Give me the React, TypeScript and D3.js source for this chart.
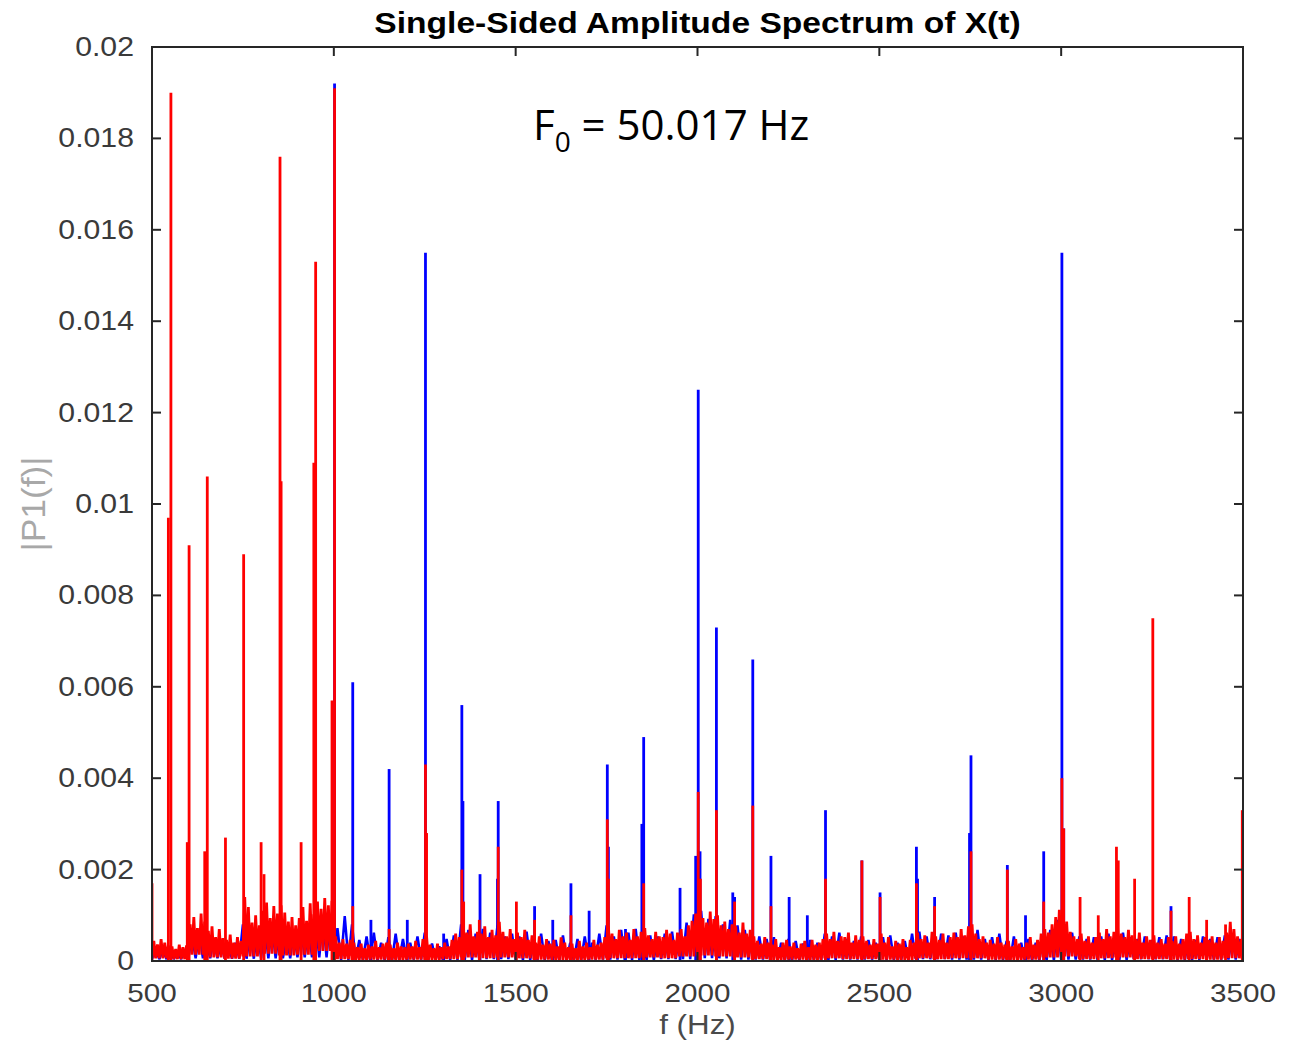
import React, { useEffect, useRef } from 'react';
import * as d3 from 'd3';

const xTicks = [500, 1000, 1500, 2000, 2500, 3000, 3500];
const yTicks = [0, 0.002, 0.004, 0.006, 0.008, 0.01, 0.012, 0.014, 0.016, 0.018, 0.02];

// noise floor of the red trace: top of each 10 Hz bin from 500 Hz (units of 1e-5)
const redNoiseHi = [
  44, 36, 48, 40, 34, 32, 26, 36, 30, 34, 80, 96, 72, 104, 86, 66, 76, 52, 70, 50,
  46, 58, 40, 52, 44, 140, 118, 84, 100, 78, 110, 128, 94, 120, 104, 122, 106, 86, 96, 78,
  94, 118, 88, 126, 102, 130, 114, 138, 122, 132, 54, 40, 48, 38, 46, 40, 30, 38, 28, 36,
  32, 44, 30, 38, 40, 36, 28, 40, 32, 30, 38, 32, 44, 30, 48, 54, 36, 28, 38, 30,
  40, 32, 46, 60, 52, 70, 62, 80, 54, 64, 60, 76, 52, 68, 56, 86, 64, 54, 70, 48,
  62, 52, 68, 46, 56, 40, 54, 36, 48, 38, 46, 32, 52, 40, 30, 38, 28, 44, 32, 40,
  30, 46, 36, 40, 52, 76, 60, 48, 68, 54, 62, 46, 70, 54, 64, 72, 56, 48, 64, 54,
  52, 68, 60, 46, 62, 70, 54, 78, 88, 104, 116, 94, 84, 108, 92, 100, 78, 86, 70, 80,
  76, 62, 84, 60, 68, 54, 44, 38, 52, 40, 36, 48, 30, 40, 46, 32, 40, 28, 38, 44,
  30, 46, 36, 40, 48, 60, 48, 64, 44, 54, 52, 62, 40, 56, 46, 54, 44, 36, 48, 38,
  60, 40, 52, 32, 44, 38, 48, 30, 46, 40, 62, 48, 56, 40, 64, 54, 46, 60, 40, 52,
  62, 52, 70, 56, 76, 80, 60, 48, 54, 40, 46, 38, 52, 40, 36, 44, 32, 48, 38, 30,
  40, 52, 36, 46, 60, 70, 62, 80, 96, 112, 120, 86, 64, 54, 48, 60, 44, 54, 40, 52,
  62, 48, 70, 54, 64, 76, 60, 52, 68, 56, 48, 62, 40, 54, 46, 56, 40, 48, 38, 52,
  44, 54, 38, 48, 60, 64, 48, 56, 40, 52, 46, 54, 40, 52, 44, 62, 86, 70, 54, 48,
];
// bottom of the red noise, per 50 Hz
const redNoiseLo = [
  6, 4, 14, 8, 5, 10, 16, 12, 14, 22, 4, 2, 3, 2, 3, 2, 4, 8, 6, 8,
  6, 3, 2, 2, 3, 6, 6, 8, 6, 10, 12, 10, 8, 4, 2, 3, 2, 6, 4, 4,
  3, 2, 6, 4, 6, 6, 3, 2, 3, 8, 10, 4, 6, 8, 4, 4, 3, 4, 3, 6,
];

// noise floor of the blue trace: top of each 20 Hz bin from 500 Hz (units of 1e-5)
const blueNoiseHi = [
  26, 24, 30, 22, 26, 54, 62, 40, 46, 36, 32, 40, 80, 60, 68, 80, 76, 70, 54, 62,
  68, 76, 84, 94, 96, 72, 98, 80, 46, 54, 62, 40, 52, 60, 48, 40, 54, 62, 38, 32,
  48, 56, 80, 68, 60, 70, 62, 78, 54, 60, 54, 64, 48, 60, 44, 46, 56, 40, 48, 54,
  40, 60, 78, 54, 68, 62, 70, 76, 56, 54, 60, 64, 54, 84, 102, 110, 92, 98, 80, 90,
  78, 68, 60, 54, 48, 52, 40, 48, 44, 38, 46, 40, 60, 54, 62, 48, 44, 54, 46, 40,
  52, 56, 40, 44, 60, 64, 54, 48, 60, 56, 62, 54, 86, 68, 48, 52, 60, 44, 54, 40,
  48, 40, 54, 68, 90, 78, 62, 54, 48, 52, 54, 60, 56, 62, 52, 48, 54, 46, 52, 56,
  54, 48, 52, 46, 54, 48, 52, 56, 54, 48,
];
// bottom of the blue noise, per 100 Hz
const blueNoiseLo = [
  4, 6, 5, 6, 8, 2, 1, 3, 2, 4, 2, 1, 3, 2, 4, 6, 3, 1, 2, 3,
  2, 4, 3, 2, 1, 3, 2, 4, 2, 3,
];

const redPeakHz = [
  500, 545, 552, 597, 602, 645, 652, 702, 752, 800, 808, 852, 855, 910, 945, 950, 995, 1002,
  1052, 1152, 1252, 1255, 1352, 1357, 1400, 1452, 1502, 1552, 1652, 1752, 1755, 1852, 2002,
  2008, 2052, 2102, 2152, 2202, 2352, 2452, 2502, 2602, 2652, 2752, 2852, 2952, 3002, 3007,
  3052, 3102, 3152, 3157, 3202, 3252, 3302, 3352, 3400, 3452, 3498,
];
const redPeakAmp = [
  0.0017, 0.0097, 0.019, 0.0026, 0.0091, 0.0024, 0.0106, 0.0027, 0.0089, 0.0026, 0.0019, 0.0176,
  0.0105, 0.0026, 0.0109, 0.0153, 0.0057, 0.0191, 0.0012, 0.0007, 0.0043, 0.0028, 0.002, 0.0013,
  0.0009, 0.0025, 0.0013, 0.0009, 0.001, 0.0031, 0.0018, 0.0017, 0.0037, 0.0018, 0.0033, 0.0013,
  0.0034, 0.0012, 0.0018, 0.0022, 0.0014, 0.0017, 0.0012, 0.0024, 0.002, 0.0013, 0.004, 0.0029,
  0.0014, 0.001, 0.0025, 0.0022, 0.0018, 0.0075, 0.0011, 0.0014, 0.0009, 0.0008, 0.0033,
];

const bluePeakHz = [
  1002, 1052, 1102, 1152, 1202, 1252, 1302, 1352, 1355, 1402, 1450, 1452, 1552, 1602, 1652,
  1702, 1752, 1755, 1802, 1847, 1852, 1952, 1995, 2002, 2007, 2052, 2097, 2102, 2152, 2202,
  2252, 2302, 2352, 2452, 2502, 2602, 2605, 2652, 2748, 2752, 2852, 2902, 2952, 3002, 3007,
  3302,
];
const bluePeakAmp = [
  0.0192, 0.0061, 0.0009, 0.0042, 0.0009, 0.0155, 0.0006, 0.0056, 0.0035, 0.0019, 0.0018,
  0.0035, 0.0012, 0.0009, 0.0017, 0.0011, 0.0043, 0.0025, 0.0007, 0.003, 0.0049, 0.0016,
  0.0023, 0.0125, 0.0024, 0.0073, 0.0015, 0.0014, 0.0066, 0.0023, 0.0014, 0.001, 0.0033,
  0.0022, 0.0015, 0.0025, 0.0018, 0.0014, 0.0028, 0.0045, 0.0021, 0.001, 0.0024, 0.0155,
  0.0029, 0.0012,
];

const WIDTH = 1293;
const HEIGHT = 1043;
const margin = { top: 47, right: 50, bottom: 82, left: 152 };

const App = () => {
  const svgRef = useRef(null);

  useEffect(() => {
    const svg = d3.select(svgRef.current);
    svg.selectAll('*').remove();

    const x = d3
      .scaleLinear()
      .domain([500, 3500])
      .range([margin.left, WIDTH - margin.right]);
    const y = d3
      .scaleLinear()
      .domain([0, 0.02])
      .range([HEIGHT - margin.bottom, margin.top]);

    const left = margin.left;
    const right = WIDTH - margin.right;
    const top = margin.top;
    const bottom = HEIGHT - margin.bottom;

    svg
      .append('clipPath')
      .attr('id', 'plot-clip')
      .append('rect')
      .attr('x', left)
      .attr('y', top)
      .attr('width', right - left)
      .attr('height', bottom - top);

    const plot = svg.append('g').attr('clip-path', 'url(#plot-clip)');

    const line = d3
      .line()
      .x((d) => x(d[0]))
      .y((d) => y(d[1]));

    // zig-zag through each bin's bottom and top, like a dense trace
    const noisePoints = (hi, lo, binHz, loBins) => {
      const pts = [];
      hi.forEach((h, i) => {
        const f0 = 500 + i * binHz;
        pts.push([f0, lo[Math.floor(i / loBins)] * 1e-5]);
        pts.push([f0 + binHz / 2, h * 1e-5]);
      });
      pts.push([3500, lo[lo.length - 1] * 1e-5]);
      return pts;
    };

    const drawSeries = (hi, lo, binHz, loBins, peakHz, peakAmp, color, noiseWidth) => {
      plot
        .append('path')
        .attr('d', line(noisePoints(hi, lo, binHz, loBins)))
        .attr('fill', 'none')
        .attr('stroke', color)
        .attr('stroke-width', noiseWidth)
        .attr('stroke-linejoin', 'bevel');

      plot
        .selectAll(null)
        .data(peakHz.map((f, i) => [f, peakAmp[i]]))
        .enter()
        .append('line')
        .attr('x1', (d) => x(d[0]))
        .attr('x2', (d) => x(d[0]))
        .attr('y1', y(0))
        .attr('y2', (d) => y(d[1]))
        .attr('stroke', color)
        .attr('stroke-width', 2.8);
    };

    drawSeries(blueNoiseHi, blueNoiseLo, 20, 5, bluePeakHz, bluePeakAmp, '#0000ff', 2.5);
    drawSeries(redNoiseHi, redNoiseLo, 10, 5, redPeakHz, redPeakAmp, '#ff0000', 2.8);

    // axes box
    const axisColor = '#262626';
    svg
      .append('rect')
      .attr('x', left)
      .attr('y', top)
      .attr('width', right - left)
      .attr('height', bottom - top)
      .attr('fill', 'none')
      .attr('stroke', axisColor)
      .attr('stroke-width', 2);

    const tickLen = 9;
    const ticks = svg.append('g').attr('stroke', axisColor).attr('stroke-width', 2);
    xTicks.forEach((t) => {
      ticks.append('line').attr('x1', x(t)).attr('x2', x(t)).attr('y1', bottom).attr('y2', bottom - tickLen);
      ticks.append('line').attr('x1', x(t)).attr('x2', x(t)).attr('y1', top).attr('y2', top + tickLen);
    });
    yTicks.forEach((t) => {
      ticks.append('line').attr('x1', left).attr('x2', left + tickLen).attr('y1', y(t)).attr('y2', y(t));
      ticks.append('line').attr('x1', right).attr('x2', right - tickLen).attr('y1', y(t)).attr('y2', y(t));
    });

    const font = '"Liberation Sans", Arial, Helvetica, sans-serif';
    const stretch = 'scale(1.12,1)';
    const fmt = d3.format('~g');

    svg
      .selectAll('.ylab')
      .data(yTicks)
      .enter()
      .append('text')
      .attr('class', 'ylab')
      .attr('transform', (d) => `translate(${left - 18},${y(d) + 9}) ${stretch}`)
      .attr('text-anchor', 'end')
      .style('font-family', font)
      .style('font-size', '27px')
      .style('fill', '#3a3a3a')
      .text((d) => fmt(d));

    svg
      .selectAll('.xlab')
      .data(xTicks)
      .enter()
      .append('text')
      .attr('class', 'xlab')
      .attr('transform', (d) => `translate(${x(d)},${bottom + 41}) ${stretch}`)
      .attr('text-anchor', 'middle')
      .style('font-family', font)
      .style('font-size', '26.5px')
      .style('fill', '#3a3a3a')
      .text((d) => d);

    // title
    svg
      .append('text')
      .attr('transform', `translate(${(left + right) / 2},${top - 14}) ${stretch}`)
      .attr('text-anchor', 'middle')
      .style('font-family', font)
      .style('font-size', '30px')
      .style('font-weight', 'bold')
      .style('fill', '#000')
      .text('Single-Sided Amplitude Spectrum of X(t)');

    // axis labels
    svg
      .append('text')
      .attr('transform', `translate(${(left + right) / 2},${bottom + 73}) ${stretch}`)
      .attr('text-anchor', 'middle')
      .style('font-family', font)
      .style('font-size', '28px')
      .style('fill', '#4a4a4a')
      .text('f (Hz)');

    svg
      .append('text')
      .attr('transform', `translate(45,${(top + bottom) / 2}) rotate(-90) scale(1,1.12)`)
      .attr('text-anchor', 'middle')
      .attr('textLength', 95)
      .attr('lengthAdjust', 'spacingAndGlyphs')
      .style('font-family', font)
      .style('font-size', '29px')
      .style('fill', '#a8a8a8')
      .text('|P1(f)|');

    // annotation
    const note = svg
      .append('text')
      .attr('x', 533)
      .attr('y', 140)
      .style('font-family', '"Open Sans", "Noto Sans", sans-serif')
      .style('font-size', '42px')
      .style('fill', '#000');
    note.append('tspan').text('F');
    note.append('tspan').attr('dy', 12).style('font-size', '28px').text('0');
    note.append('tspan').attr('dy', -12).text(' = 50.017 Hz');
  }, []);

  return (
    <svg
      ref={svgRef}
      width={WIDTH}
      height={HEIGHT}
      style={{ position: 'absolute', left: 0, top: 0, background: '#fff' }}
    />
  );
};

export default App;
